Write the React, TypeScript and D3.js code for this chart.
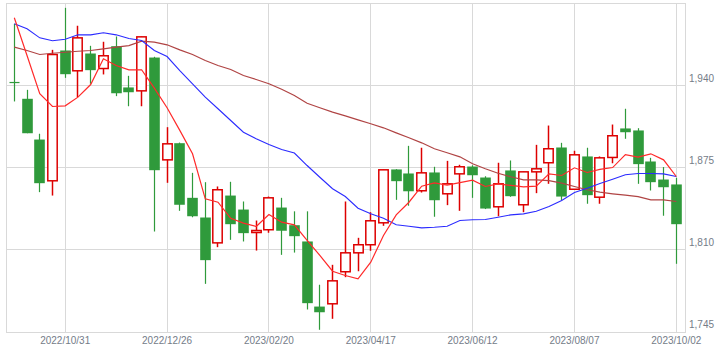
import React from "react";
import * as d3 from "d3";

// Weekly candles, first week 2022/10/03
const startDate = "2022-10-03";
const opens = [1942.6,1929.7,1897.4,1864.7,1968.0,1951.9,1965.6,1953.7,1971.4,1938.7,1936.0,1962.4,1881.3,1894.5,1851.2,1835.6,1815.5,1853.0,1841.9,1823.7,1825.9,1843.5,1829.5,1816.6,1765.0,1767.2,1792.6,1807.6,1814.0,1831.4,1873.7,1870.5,1856.8,1871.3,1854.4,1870.2,1876.0,1867.3,1844.1,1872.9,1845.7,1871.8,1879.0,1891.1,1858.0,1884.0,1851.7,1883.2,1906.2,1904.6,1880.0,1865.7,1861.8];
const highs = [1989.1,1936.8,1902.0,1968.5,2001.8,1987.6,1971.7,1974.9,1979.1,1947.9,1979.1,1963.0,1907.2,1895.0,1871.0,1863.6,1860.2,1863.9,1848.3,1833.2,1852.2,1851.2,1840.5,1840.5,1782.3,1798.1,1848.3,1819.5,1839.8,1873.6,1873.9,1892.4,1890.9,1875.8,1880.5,1877.4,1877.0,1868.3,1879.0,1880.8,1872.0,1893.2,1908.5,1894.8,1888.5,1890.9,1884.0,1909.3,1921.8,1906.4,1882.9,1875.6,1867.1];
const lows = [1927.6,1902.4,1855.7,1853.0,1946.3,1931.0,1941.6,1949.0,1931.8,1923.8,1923.8,1824.5,1863.1,1840.9,1835.8,1783.0,1812.1,1817.9,1816.6,1809.4,1823.5,1806.0,1807.8,1762.7,1746.6,1755.3,1788.3,1793.0,1809.2,1829.0,1849.6,1844.9,1855.4,1836.2,1845.4,1840.9,1851.2,1842.3,1836.6,1852.0,1839.8,1854.9,1862.3,1849.1,1858.0,1846.5,1846.5,1878.6,1898.0,1862.3,1857.0,1837.0,1798.9];
const closes = [1942.3,1902.4,1862.8,1964.8,1949.2,1978.0,1952.4,1963.8,1934.1,1934.9,1978.8,1873.1,1894.0,1845.7,1836.6,1801.8,1857.6,1830.3,1823.2,1825.3,1851.2,1825.1,1820.8,1767.7,1760.5,1785.4,1807.6,1814.0,1833.0,1873.4,1864.4,1856.4,1871.0,1849.3,1862.3,1875.8,1869.1,1842.7,1862.3,1852.5,1871.8,1874.2,1890.1,1852.2,1885.3,1853.3,1882.9,1900.4,1903.2,1877.9,1863.6,1859.6,1830.3];

// Moving averages
const maShort = [1993.9,1964.0,1933.7,1923.6,1924.1,1931.0,1941.0,1961.4,1956.1,1952.7,1952.7,1938.1,1922.6,1904.7,1886.1,1850.4,1847.7,1835.0,1831.1,1828.5,1838.0,1831.9,1829.8,1817.4,1805.5,1793.0,1789.6,1787.0,1800.2,1821.3,1837.7,1847.7,1860.4,1863.1,1861.2,1863.3,1865.2,1860.2,1862.3,1861.0,1859.9,1860.4,1870.2,1868.9,1875.0,1871.3,1873.7,1875.2,1885.5,1883.4,1886.1,1881.3,1868.1];
const maMid = [1989.1,1985.2,1978.0,1975.7,1976.9,1980.4,1980.4,1982.0,1980.4,1977.5,1975.9,1968.0,1963.2,1952.1,1941.6,1931.0,1921.8,1912.5,1903.2,1898.0,1893.5,1889.5,1886.7,1876.8,1867.5,1858.4,1852.2,1843.0,1838.5,1835.0,1829.8,1828.7,1827.4,1827.9,1828.7,1833.2,1833.8,1834.0,1835.8,1837.7,1838.5,1840.6,1844.3,1849.1,1855.4,1858.8,1862.6,1866.0,1869.5,1870.5,1870.5,1870.2,1868.1];
const maLong = [1970.6,1968.0,1964.8,1965.8,1966.6,1967.4,1968.0,1969.3,1970.6,1971.9,1975.4,1974.6,1972.5,1968.5,1964.8,1960.1,1956.1,1952.9,1948.2,1945.0,1941.6,1937.3,1932.3,1926.2,1922.6,1919.1,1916.2,1913.0,1909.9,1906.7,1902.7,1898.8,1894.8,1890.1,1886.9,1883.7,1878.2,1874.2,1870.7,1867.9,1865.5,1865.5,1864.9,1862.8,1860.2,1857.6,1855.7,1854.4,1853.3,1852.2,1849.6,1849.6,1848.3];

const yTicks = [1745, 1810, 1875, 1940];
const xTickLabels = ["2022/10/31", "2022/12/26", "2023/02/20", "2023/04/17", "2023/06/12", "2023/08/07", "2023/10/02"];

const W = 727, H = 355;
const left = 6.5, right = 685.5, top = 3.5, bottom = 332.5;

export default function App() {
  const n = opens.length;
  const start = d3.timeParse("%Y-%m-%d")(startDate) as Date;
  const fmt = d3.timeFormat("%Y/%m/%d");
  const dates = d3.range(n).map((i) => fmt(d3.timeWeek.offset(start, i)));

  const x = d3.scaleLinear().domain([0, n - 1]).range([14.3, 676.3]);
  const y = d3.scaleLinear().domain([1745, 2005]).range([331.8, 3.8]);
  const snap = (v: number) => Math.floor(v) + 0.5;

  const line = d3
    .line<number>()
    .x((_, i) => x(i))
    .y((d) => y(d));

  const xTickIdx = xTickLabels.map((l) => dates.indexOf(l));
  const green = "#2f9a3b";
  const red = "#dd0000";
  const textColor = "#747c88";
  const font = "'Liberation Sans', Arial, sans-serif";

  return (
    <svg
      width={W}
      height={H}
      style={{ position: "fixed", left: 0, top: 0, background: "#fff" }}
    >
      <rect x={0} y={0} width={W} height={H} fill="#fff" />
      {/* grid */}
      {yTicks.filter((t) => t !== 1745).map((t) => (
        <line key={"gy" + t} x1={left} x2={right} y1={snap(y(t))} y2={snap(y(t))} stroke="#d9d9d9" strokeWidth={1} />
      ))}
      {xTickIdx.map((i, k) => (
        <line key={"gx" + k} x1={snap(x(i))} x2={snap(x(i))} y1={top} y2={bottom} stroke="#d9d9d9" strokeWidth={1} />
      ))}
      <rect x={left} y={top} width={right - left} height={bottom - top} fill="none" stroke="#d9d9d9" strokeWidth={1} />

      {/* candles */}
      {opens.map((o, i) => {
        const c = closes[i];
        const up = c > o;
        const cx = snap(x(i));
        const col = up ? red : green;
        const yTop = y(Math.max(o, c));
        const yBot = y(Math.min(o, c));
        return (
          <g key={"c" + i}>
            <line x1={cx} x2={cx} y1={y(highs[i])} y2={y(lows[i])} stroke={col} strokeWidth={up ? 1.5 : 1.2} />
            {up ? (
              <rect x={cx - 4.7} y={yTop} width={9.4} height={Math.max(yBot - yTop, 1)} fill="#fff" stroke={red} strokeWidth={1.5} />
            ) : Math.abs(yBot - yTop) < 1 ? (
              <line x1={cx - 5} x2={cx + 5} y1={yTop} y2={yTop} stroke={green} strokeWidth={1.2} />
            ) : (
              <rect x={cx - 5.3} y={yTop} width={10.6} height={yBot - yTop} fill={green} />
            )}
          </g>
        );
      })}

      {/* moving averages */}
      <path d={line(maLong) || ""} fill="none" stroke="#b04444" strokeWidth={1.2} />
      <path d={line(maMid) || ""} fill="none" stroke="#2b2bff" strokeWidth={1.1} />
      <path d={line(maShort) || ""} fill="none" stroke="#ff2a2a" strokeWidth={1.2} />

      {/* y labels */}
      {yTicks.map((t) => (
        <text key={"ty" + t} x={689} y={y(t) - 3.5} fontFamily={font} fontSize={10} fill={textColor}>
          {d3.format(",")(t)}
        </text>
      ))}
      {/* x labels */}
      {xTickIdx.map((i, k) => (
        <text key={"tx" + k} x={x(i)} y={344} textAnchor="middle" fontFamily={font} fontSize={10} fill={textColor}>
          {xTickLabels[k]}
        </text>
      ))}
    </svg>
  );
}
